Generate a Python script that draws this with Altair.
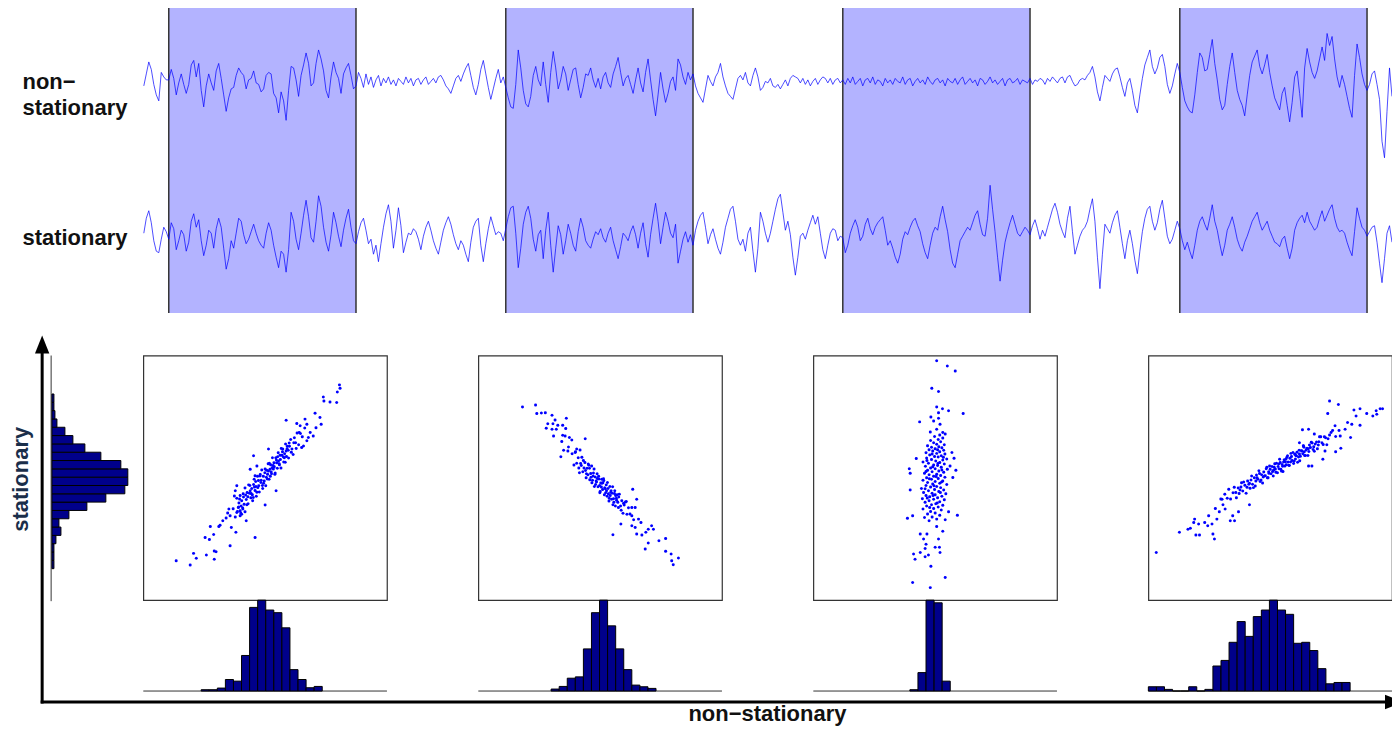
import altair as alt
import pandas as pd

# ---------------- data ----------------
# time series, one sample every 2.5 px, t = 0..500
stationary = [
    0.2, 1.2, 1.7, 0.9, -0.3, -1.0, -1.1, -0.2, 0.6, 0.3,
    -0.2, 0.9, 0.5, -0.9, -0.3, 0.4, 0.1, -1.0, -0.4, 1.0,
    1.5, 0.6, 1.1, -0.3, -1.3, -0.6, 0.4, 0.2, -0.8, 0.5,
    1.2, 0.6, -0.8, -2.2, -1.5, -0.3, -0.8, 0.2, 1.2, 1.0,
    0.1, -0.5, -0.2, 0.3, 0.8, 0.2, -0.3, -0.6, -0.8, 0.2,
    0.9, 0.4, -0.6, -1.4, -2.1, -1.0, -1.2, -2.4, -0.9, 1.6,
    1.0, -0.2, -0.9, 0.2, 1.4, 2.4, 1.3, -0.1, -0.4, 1.0,
    2.7, 2.0, 0.6, -0.4, -1.0, 0.1, 1.6, 0.9, 0.0, -0.7,
    0.4, 1.2, 1.8, 0.6, -0.3, -0.5, 0.3, 0.9, 1.2, 0.4,
    -0.5, -0.2, -1.2, -0.6, -1.7, -0.5, 0.6, 1.5, 2.1, 1.0,
    -0.8, 0.4, 1.9, 0.7, -1.1, -0.4, 0.2, 0.1, 0.5, 0.3,
    -0.2, -0.9, 0.0, 0.6, 1.0, 0.4, -0.3, -0.8, -1.2, -0.4,
    0.4, 0.9, 1.3, 0.8, 0.1, -0.5, -0.9, -0.3, -0.6, -1.2,
    -1.7, -0.4, 0.6, 1.0, 1.2, -0.6, -1.7, -0.5, 0.5, 1.3,
    0.7, 0.1, 0.3, 0.2, -0.3, 0.5, 1.3, 1.9, 2.0, 0.2,
    -2.1, -0.8, 0.8, 1.6, 2.0, 1.2, -0.2, -1.0, 0.1, 0.4,
    -1.5, 0.4, 1.6, -0.6, -2.4, -0.8, 0.7, 0.1, -1.2, -0.3,
    0.8, 0.2, -0.6, -1.0, 0.3, 1.2, 0.6, -0.3, -0.6, -0.8,
    -0.2, 0.3, 0.1, 0.5, -0.1, -0.4, 0.2, 0.6, -0.3, -0.9,
    -1.5, -0.7, 0.2, 0.0, -0.3, 0.3, 0.7, 0.1, -0.8, 0.2,
    0.9, -0.5, -1.4, 0.1, 1.2, 2.2, 1.0, -0.5, 0.6, 1.6,
    1.0, 0.2, -0.1, 0.8, -1.8, -1.0, -0.2, 0.3, -0.4, 0.1,
    -0.6, 0.4, 1.0, 1.4, 1.6, 0.6, -0.5, 0.1, 0.5, -0.2,
    -0.8, -1.2, -0.4, 0.6, 1.2, 1.8, 2.0, 1.0, -0.2, -0.6,
    -0.2, -1.0, 0.2, 0.6, -1.0, -2.4, -0.8, 1.6, 1.0, 0.2,
    -0.4, 0.2, 1.0, 1.8, 2.5, 2.8, 1.6, 0.4, 1.0, 0.1,
    -1.4, -2.6, -1.4, 0.0, 0.2, -0.2, 0.4, 0.9, 1.4, 0.8,
    1.3, 0.2, -0.9, -1.5, -0.6, 0.2, 0.5, 0.4, -0.3, 0.0,
    -0.1, -1.1, -0.6, 0.2, 0.7, 1.1, 0.6, -0.3, 0.0, 0.8,
    1.2, 0.5, 0.1, 0.6, 0.9, 1.1, 1.3, 0.4, -0.6, -0.3,
    -0.8, -1.4, -1.8, -1.2, -0.2, 0.3, 0.1, 0.6, 1.0, 1.2,
    0.7, 0.3, -0.5, -1.1, -1.5, -0.6, 0.2, 0.6, 0.4, 1.3,
    2.0, 1.1, 0.3, -0.9, -1.8, -2.1, -1.2, -0.3, 0.0, 0.3,
    0.6, 0.4, 0.9, 1.4, 1.7, 0.8, 0.1, 0.0, 1.2, 3.4,
    1.8, 0.3, -1.4, -3.0, -1.6, -0.4, 0.3, 0.9, 1.4, 0.8,
    0.2, 0.0, 0.3, 0.6, 0.4, 0.1, 0.7, 1.1, 0.5, -0.2,
    0.4, 0.0, 0.6, 1.2, 1.8, 2.2, 1.6, 0.8, 0.3, -0.1,
    1.2, 2.0, 0.3, -1.2, -0.6, 0.0, 0.4, 0.6, 1.0, 1.8,
    2.5, 1.0, -1.4, -3.5, -1.2, 0.8, 0.5, 0.2, 0.9, 1.4,
    1.7, 0.6, -0.5, -1.5, -0.3, 0.4, -0.5, -1.6, -2.5, -1.0,
    0.3, 1.2, 1.8, 2.0, 1.0, 0.4, 0.9, 1.8, 2.4, 1.2,
    0.0, -0.5, -0.2, 0.4, 1.0, 0.5, -0.3, -0.9, -0.4, -1.0,
    -1.5, -0.6, 0.4, 1.0, 1.3, 0.8, 0.4, 1.2, 2.1, 1.0,
    0.4, -0.5, -1.3, -0.6, 0.4, 0.8, 1.3, 0.6, -0.2, -0.7,
    -1.0, -0.4, 0.0, 0.5, 1.0, 1.3, 1.6, 0.9, 0.4, 0.7,
    1.0, 0.4, 0.0, -0.4, -0.5, -0.7, -0.2, 0.0, -0.8, -1.5,
    -0.8, 0.4, 0.9, 1.2, 1.4, 0.9, 1.6, 1.0, 0.7, 0.4,
    0.6, 1.2, 1.7, 1.0, 1.4, 1.8, 2.1, 1.2, 0.6, 0.3,
    0.4, 0.2, -0.4, -0.9, -1.3, 0.3, 1.9, 1.2, 0.6, 0.4,
    0.0, 0.3, 0.6, 0.7, -0.4, -1.8, -3.1, -1.5, 0.2, 0.7,
    -0.4,
]

non_stationary = [
    -0.3, 0.5, 1.3, 0.8, -0.2, -0.9, -1.3, 0.6, 0.3, 0.1,
    0.1, 0.8, 0.2, -0.9, -0.1, 0.5, -0.2, -0.8, -0.2, 1.1,
    1.4, 0.3, 1.2, -0.6, -1.7, -0.3, 0.5, -0.1, -0.6, 0.7,
    1.2, 0.2, -0.9, -2.0, -1.1, -0.5, -0.4, 0.4, 0.9, 0.6,
    0.4, -0.5, 0.1, 0.2, 0.7, -0.1, -0.2, -0.7, -0.5, 0.4,
    0.6, 0.5, -0.8, -1.1, -2.1, -0.7, -1.3, -2.6, -0.6, 1.0,
    0.9, 0.1, -1.0, 0.4, 1.1, 1.9, 1.2, -0.3, -0.1, 1.2,
    2.1, 1.5, 0.7, -0.6, -1.1, 0.3, 1.3, 0.6, 0.2, -0.8,
    0.5, 0.9, 1.2, 0.4, -0.5, -0.3, 0.6, 0.2, -0.4, 0.5,
    -0.2, 0.3, -0.4, 0.1, 0.4, -0.3, 0.2, -0.1, 0.3, -0.2,
    0.1, -0.3, 0.2, 0.0, -0.2, 0.3, -0.1, 0.2, -0.3, 0.1,
    0.2, -0.2, 0.1, 0.3, -0.2, 0.0, 0.2, -0.1, 0.3, 0.4,
    0.1, -0.3, -0.5, -0.8, -0.3, 0.2, 0.4, 0.0, 0.5, 0.9,
    1.2, 0.4, -0.4, -0.9, -0.2, 0.8, 1.4, 0.5, -0.4, -1.2,
    -0.5, 0.2, 0.8, -0.1, 0.3, -0.4, -1.1, -1.7, -1.8, -0.2,
    2.1, 0.9, -0.6, -1.5, -1.7, -1.0, 0.4, 1.0, 0.1, -0.3,
    1.3, -0.2, -1.4, 0.6, 2.0, 0.9, -0.5, 0.1, 1.0, 0.5,
    -0.6, 0.1, 0.8, 0.9, -0.2, -1.1, -0.4, 0.5, 0.4, 0.9,
    0.1, -0.4, 0.2, -0.5, 0.3, 0.6, -0.1, -0.4, 0.5, 1.0,
    1.6, 0.6, -0.3, 0.2, 0.4, -0.2, -0.8, 0.1, 0.9, -0.1,
    -0.7, 0.6, 1.5, 0.1, -1.2, -2.3, -0.9, 0.6, -0.5, -1.4,
    -0.8, 0.0, 0.3, -0.6, 1.5, 1.1, 0.3, -0.2, 0.6, 0.1,
    0.5, -0.3, -0.8, -1.1, -1.4, -0.5, 0.4, 0.0, -0.3, 0.3,
    0.6, 1.2, 0.3, -0.3, -0.8, -1.0, -1.2, -0.5, 0.2, 0.4,
    0.1, 0.6, -0.1, -0.3, 0.4, 0.9, 0.3, -0.6, -0.4, 0.0,
    -0.1, 0.2, -0.3, -0.4, -0.2, -0.5, -0.2, 0.1, -0.3, 0.2,
    0.4, 0.3, 0.2, -0.1, 0.2, -0.2, 0.1, -0.3, 0.0, 0.2,
    -0.2, 0.1, 0.3, 0.2, -0.1, 0.2, -0.2, 0.1, 0.2, -0.1,
    0.1, -0.2, 0.2, -0.1, 0.3, -0.2, 0.0, 0.2, -0.3, 0.1,
    0.2, -0.1, 0.3, -0.2, 0.1, 0.0, -0.3, 0.2, -0.1, 0.1,
    -0.2, 0.2, 0.0, -0.1, 0.3, -0.2, 0.1, 0.2, -0.3, 0.0,
    0.2, -0.1, 0.1, -0.2, 0.3, 0.0, -0.2, 0.1, 0.2, -0.1,
    0.1, -0.3, 0.2, 0.0, -0.1, 0.2, -0.2, 0.1, 0.3, -0.2,
    0.0, 0.2, -0.1, 0.1, -0.3, 0.2, 0.1, -0.2, 0.0, 0.3,
    -0.1, 0.1, -0.2, 0.0, 0.2, -0.3, 0.1, 0.2, -0.1, 0.0,
    0.2, -0.2, 0.1, 0.0, -0.1, 0.2, -0.2, 0.1, 0.0, 0.2,
    0.1, -0.2, 0.2, 0.0, 0.3, 0.1, -0.1, 0.2, 0.3, -0.1,
    0.3, 0.4, 0.0, -0.3, -0.2, 0.1, 0.2, 0.1, 0.4, 0.6,
    1.0, 0.3, -0.7, -1.3, -0.4, 0.4, 0.2, 0.0, 0.5, 0.8,
    0.9, 0.3, -0.4, -1.0, -0.1, 0.2, -0.6, -1.6, -2.1, -0.9,
    0.2, 1.1, 1.6, 2.1, 1.0, 0.5, 0.9, 1.6, 1.8, 1.0,
    -0.2, -0.8, -0.3, 0.5, 1.2, 0.6, -0.4, -1.3, -1.7, -2.0,
    -2.1, -0.9, 0.6, 1.9, 1.6, 0.7, 0.8, 1.8, 2.8, 1.2,
    0.1, -1.2, -1.9, -1.6, -0.2, 1.0, 1.9, 0.6, -0.6, -1.2,
    -1.6, -2.3, -0.9, 0.4, 1.3, 1.7, 2.1, 1.0, 0.5, 1.1,
    1.8, 0.6, -0.3, -1.1, -1.5, -1.9, -0.8, -0.4, -1.6, -2.7,
    -1.4, 0.3, 0.7, -0.8, -2.4, 0.9, 2.2, 1.3, 0.6, 0.2,
    0.7, 1.5, 2.3, 1.4, 3.2, 2.4, 3.0, 1.5, 0.3, -0.4,
    0.4, -0.2, -1.0, -1.8, -2.4, 0.4, 2.5, 1.6, 0.5, -0.2,
    -0.6, -0.2, 0.5, 0.7, -0.2, -1.2, -4.0, -5.1, -2.0, 0.9,
    -1.0,
]

window_starts = [10, 145, 280, 415]
window_length = 75

# scatter panels: (non-stationary, stationary) pairs inside each window
scatter_1 = [
    (-2.92, -2.71), (-2.46, -2.85), (-2.35, -2.47), (-2.26, -2.63), (-1.93, -2.52), (-1.67, -2.66),
    (-1.67, -2.39), (-1.61, -2.42), (-1.15, -2.22), (-1.83, -2.02), (-1.97, -1.95), (-1.69, -1.85),
    (-1.80, -1.59), (-1.52, -1.59), (-1.48, -1.55), (-1.11, -1.62), (-0.96, -1.78), (-0.33, -1.95),
    (-1.39, -1.40), (-1.28, -1.31), (-1.23, -1.15), (-1.19, -1.02), (-1.15, -1.24), (-0.93, -1.13),
    (-0.82, -1.08), (-0.82, -1.24), (-0.87, -0.95), (-0.77, -1.19), (-0.62, -1.40), (-0.73, -1.02),
    (-0.66, -1.11), (0.69, 1.88), (1.04, 1.78), (1.15, 1.70), (1.31, 1.92), (1.37, 1.75), (1.48, 1.48),
    (1.42, 1.32), (1.64, 2.11), (1.80, 1.97), (1.84, 1.75), (1.67, 1.64), (1.58, 1.37), (1.91, 2.64),
    (1.93, 2.51), (2.13, 2.48), (2.35, 2.46), (2.37, 2.81), (2.44, 3.04), (2.46, 2.93), (1.37, 1.21),
    (1.26, 1.04), (1.20, 0.99), (0.11, 0.94), (-0.38, 0.72), (0.36, -0.42), (0.00, -0.89), (-0.49, 0.28),
    (-0.27, 0.39), (-0.93, -0.26), (-0.98, -0.42), (-1.01, -0.59), (-0.33, 0.07),
    (-1.05, -1.01), (-0.98, -1.28), (-0.93, -0.67), (-0.88, -0.97), (-0.84, -0.69), (-0.80, -1.15),
    (-0.77, -0.75), (-0.72, -0.52), (-0.69, -0.86), (-0.66, -0.33), (-0.62, -0.71), (-0.59, -0.48),
    (-0.56, -0.85), (-0.52, -0.50), (-0.50, -0.25), (-0.47, -0.65), (-0.44, -0.35), (-0.41, -0.75),
    (-0.38, -0.22), (-0.36, -0.05), (-0.33, -0.41), (-0.30, -0.28), (-0.27, -0.47), (-0.25, 0.05),
    (-0.22, -0.09), (-0.19, -0.46), (-0.17, 0.06), (-0.14, -0.15), (-0.11, 0.26), (-0.09, -0.25),
    (-0.06, 0.05), (-0.03, -0.10), (0.00, 0.29), (0.02, -0.26), (0.05, 0.25), (0.08, 0.12),
    (0.10, 0.46), (0.13, -0.05), (0.16, 0.28), (0.18, 0.43), (0.21, 0.13), (0.24, 0.66),
    (0.27, 0.29), (0.29, 0.49), (0.32, 0.12), (0.35, 0.66), (0.38, 0.49), (0.40, 0.31),
    (0.43, 0.82), (0.46, 0.46), (0.49, 0.74), (0.52, 0.32), (0.55, 0.74), (0.58, 0.94),
    (0.61, 0.52), (0.64, 0.79), (0.67, 1.11), (0.70, 0.70), (0.73, 1.03), (0.77, 0.65),
    (0.80, 1.03), (0.84, 1.25), (0.88, 0.94), (0.92, 0.76), (0.96, 1.31), (1.00, 1.15),
    (1.05, 1.47), (1.10, 1.08), (1.16, 1.45), (1.22, 1.34), (1.30, 1.63),
    (-0.91, -1.10), (-0.82, -0.58), (-0.74, -0.98), (-0.64, -0.56), (-0.54, -0.23), (-0.46, -0.51),
    (-0.39, -0.64), (-0.31, -0.12), (-0.24, -0.32), (-0.16, 0.11), (-0.08, -0.35), (-0.01, 0.17),
    (0.07, -0.04), (0.14, 0.48), (0.20, 0.19), (0.26, 0.40), (0.33, 0.16), (0.41, 0.69),
    (0.47, 0.43), (0.53, 0.96), (0.60, 0.68), (0.66, 0.51), (0.72, 0.95), (0.79, 1.14),
    (0.86, 0.84), (0.94, 1.15), (1.02, 0.96), (1.12, 1.48),
    (-0.86, -0.82), (-0.79, -0.92), (-0.71, -0.63), (-0.60, -0.88), (-0.57, -0.62), (-0.49, -0.42),
    (-0.42, -0.55), (-0.35, -0.30), (-0.29, -0.60), (-0.21, -0.26), (-0.13, -0.08), (-0.05, -0.18),
    (0.04, 0.02), (0.11, 0.22), (0.17, 0.05), (0.23, 0.33), (0.30, 0.36), (0.37, 0.58),
    (0.44, 0.55), (0.50, 0.60), (0.57, 0.85), (0.63, 0.66), (0.69, 0.88), (0.76, 0.90),
]

scatter_2 = [
    (-2.55, 2.32), (-2.12, 2.38), (-2.08, 2.10), (-1.93, 2.12), (-1.80, 2.13), (-1.58, 2.05),
    (-1.48, 1.89), (-1.11, 1.95), (-1.72, 1.77), (-1.55, 1.77), (-1.39, 1.72), (-1.23, 1.72),
    (-1.77, 1.62), (-1.58, 1.59), (-1.44, 1.59), (-1.13, 1.61), (-1.53, 1.37), (-1.23, 1.39),
    (-1.15, 1.37), (-1.01, 1.32), (-0.93, 1.24), (-1.26, 1.19), (-1.04, 1.01), (-0.49, 1.28),
    (-1.29, 0.69), (-1.20, 0.90), (-1.06, 0.88), (-0.77, 0.94), (-0.66, 0.91), (-0.82, 0.83),
    (0.42, -1.86), (1.48, -2.33), (1.58, -2.13), (1.93, -2.06), (2.15, -1.98), (2.15, -2.40),
    (2.33, -2.49), (2.35, -2.71), (2.40, -2.84), (2.57, -2.62), (1.20, -1.84), (1.37, -1.87),
    (1.50, -1.78), (1.69, -1.57), (1.75, -1.68), (1.58, -1.68), (1.15, -1.62), (1.04, -1.57),
    (1.34, -1.46), (1.26, -1.35), (0.68, -1.51), (1.04, -1.24), (1.07, -0.37), (1.20, -0.70),
    (1.15, -0.97),
    (-0.92, 0.79), (-0.86, 0.42), (-0.81, 0.85), (-0.77, 0.48), (-0.72, 0.66), (-0.68, 0.17),
    (-0.64, 0.47), (-0.60, 0.67), (-0.57, 0.20), (-0.53, 0.32), (-0.50, 0.50), (-0.46, 0.00),
    (-0.43, 0.31), (-0.40, 0.10), (-0.37, 0.41), (-0.34, -0.06), (-0.31, 0.14), (-0.28, 0.39),
    (-0.25, -0.08), (-0.22, 0.16), (-0.19, -0.28), (-0.16, 0.03), (-0.13, -0.10), (-0.10, 0.13),
    (-0.07, -0.29), (-0.04, -0.04), (-0.01, -0.49), (0.02, -0.17), (0.05, -0.05), (0.08, -0.38),
    (0.11, -0.03), (0.14, -0.55), (0.17, -0.36), (0.20, -0.23), (0.23, -0.60), (0.26, -0.35),
    (0.29, -0.76), (0.32, -0.28), (0.35, -0.47), (0.38, -0.70), (0.41, -0.29), (0.44, -0.68),
    (0.47, -0.51), (0.50, -0.92), (0.53, -0.67), (0.56, -0.55), (0.60, -0.97), (0.63, -0.54),
    (0.67, -0.92), (0.71, -0.75), (0.75, -1.16), (0.79, -0.89), (0.83, -0.79), (0.88, -1.19),
    (0.93, -0.98), (0.98, -1.18), (1.04, -0.97), (1.10, -1.37),
    (-0.70, 0.32), (-0.55, 0.57), (-0.45, 0.13), (-0.35, 0.31), (-0.27, -0.16), (-0.20, 0.29),
    (-0.12, -0.14), (-0.05, 0.05), (0.00, -0.45), (0.06, -0.18), (0.12, -0.09), (0.18, -0.49),
    (0.24, -0.15), (0.30, -0.67), (0.36, -0.42), (0.42, -0.88), (0.48, -0.42), (0.54, -0.73),
    (0.61, -0.63), (0.69, -1.06), (0.77, -0.83), (0.86, -0.77),
    (-0.62, 0.40), (-0.48, 0.24), (-0.39, 0.45), (-0.30, 0.02), (-0.23, 0.06), (-0.15, -0.22),
    (-0.09, -0.02), (-0.02, -0.25), (0.04, -0.30), (0.09, -0.16), (0.15, -0.32), (0.21, -0.42),
    (0.27, -0.52), (0.33, -0.58), (0.39, -0.50), (0.45, -0.80), (0.51, -0.58), (0.58, -0.80),
]

scatter_3 = [
    (0.05, 3.83), (0.40, 3.66), (0.66, 3.49), (-0.11, 2.93), (0.11, 2.82), (0.05, 2.32),
    (0.24, 2.26), (0.44, 2.19), (0.92, 2.10), (-0.14, 1.99), (0.11, 2.13), (-0.05, 1.86),
    (0.11, 1.95), (-0.51, 1.83), (0.16, 1.75), (-0.16, 1.50), (0.05, 1.59), (0.25, 1.48),
    (0.33, 1.43), (-0.74, -3.42), (-0.16, -3.59), (0.33, -3.26), (-0.14, -2.89), (-0.71, -2.49),
    (-0.66, -2.66), (-0.49, -2.44), (-0.33, -2.58), (-0.22, -2.52), (0.16, -2.44), (0.00, -2.27),
    (0.14, -2.27), (-0.33, -2.31), (-0.30, -2.17), (-0.38, -2.00), (-0.49, -1.84), (-0.27, -1.84),
    (0.11, -2.00), (0.25, -1.75), (-0.91, -1.32), (-0.74, -1.24), (0.73, -1.22), (0.44, -1.11),
    (0.05, -1.59), (0.33, -1.37), (-0.85, 0.30), (-0.82, 0.15), (-0.82, -0.40), (-0.62, 0.63),
    (0.68, 0.25), (0.58, 0.01), (0.55, 0.83), (0.62, 0.64), (0.49, 0.39),
    (-0.20, -1.40), (0.05, -1.35), (-0.35, -1.30), (-0.10, -1.28), (0.15, -1.22), (-0.25, -1.18),
    (0.00, -1.15), (-0.15, -1.10), (0.20, -1.05), (-0.40, -1.02), (-0.05, -1.00), (0.10, -0.95),
    (-0.28, -0.92), (0.25, -0.90), (-0.12, -0.88), (0.02, -0.85), (-0.33, -0.80), (0.15, -0.78),
    (-0.20, -0.75), (0.30, -0.72), (-0.05, -0.70), (-0.42, -0.68), (0.08, -0.65), (-0.18, -0.62),
    (0.22, -0.60), (-0.30, -0.58), (0.00, -0.55), (0.35, -0.52), (-0.10, -0.50), (-0.38, -0.48),
    (0.12, -0.45), (-0.22, -0.42), (0.28, -0.40), (-0.02, -0.38), (-0.45, -0.35), (0.18, -0.32),
    (-0.15, -0.30), (0.05, -0.28), (-0.30, -0.25), (0.38, -0.22), (-0.08, -0.20), (0.15, -0.18),
    (-0.25, -0.15), (0.00, -0.12), (0.25, -0.10), (-0.40, -0.08), (-0.12, -0.05), (0.10, -0.02),
    (-0.28, 0.00), (0.32, 0.02), (-0.05, 0.05), (0.18, 0.08), (-0.20, 0.10), (0.05, 0.12),
    (-0.35, 0.15), (0.28, 0.18), (-0.10, 0.20), (0.12, 0.22), (-0.25, 0.25), (0.40, 0.28),
    (0.00, 0.30), (-0.15, 0.32), (0.20, 0.35), (-0.32, 0.38), (0.08, 0.40), (-0.05, 0.42),
    (0.30, 0.45), (-0.22, 0.48), (0.15, 0.50), (-0.40, 0.52), (0.02, 0.55), (0.25, 0.58),
    (-0.12, 0.60), (0.38, 0.62), (-0.28, 0.65), (0.10, 0.68), (-0.02, 0.70), (0.20, 0.72),
    (-0.18, 0.75), (0.32, 0.78), (0.05, 0.80), (-0.30, 0.82), (0.15, 0.85), (-0.08, 0.88),
    (0.28, 0.90), (-0.20, 0.92), (0.00, 0.95), (0.22, 0.98), (-0.12, 1.00), (0.12, 1.02),
    (-0.25, 1.05), (0.30, 1.08), (0.05, 1.10), (-0.05, 1.15), (0.18, 1.18), (-0.15, 1.22),
    (0.10, 1.25), (0.25, 1.30), (-0.02, 1.35), (0.15, 1.40),
    (-0.18, -0.97), (0.07, -0.82), (-0.26, -0.66), (-0.07, -0.58), (0.17, -0.48), (-0.33, -0.36),
    (-0.04, -0.26), (0.21, -0.14), (-0.19, -0.03), (0.03, 0.04), (-0.30, 0.21), (0.22, 0.26),
    (-0.08, 0.36), (0.09, 0.47), (-0.27, 0.57), (0.27, 0.67), (-0.10, 0.78), (0.08, 0.92),
]

scatter_4 = [
    (-3.74, -2.44), (-2.98, -1.78), (-2.70, -1.68), (-2.62, -1.65), (-2.48, -1.35), (-2.44, -1.87),
    (-2.32, -1.87), (-2.51, -1.46), (-2.35, -1.51), (-2.15, -1.46), (-2.02, -1.24), (-2.05, -1.57),
    (-1.88, -1.84), (-1.83, -2.00), (-1.91, -1.51), (-1.75, -1.35), (-1.80, -1.00), (-1.58, -0.70),
    (-1.67, -1.11), (-1.48, -1.02), (-1.31, -1.40), (-1.17, -1.40), (-1.04, -1.11), (-1.23, -1.24),
    (-1.13, -0.48), (-0.68, -0.88), (1.95, 2.51), (2.24, 2.40), (1.89, 2.10), (2.75, 2.22),
    (2.95, 2.26), (2.82, 2.02), (3.17, 2.10), (3.37, 2.02), (3.50, 2.08), (3.61, 2.26),
    (3.69, 2.26), (3.48, 2.19), (2.68, 1.75), (2.54, 1.81), (2.95, 1.72), (2.13, 1.70),
    (2.46, 1.59), (2.30, 1.37), (2.64, 1.32), (2.32, 0.97), (2.15, 0.85), (1.73, 0.61),
    (1.80, 0.88), (1.26, 0.39), (1.37, 0.39), (1.06, 1.57), (1.26, 1.59), (1.45, 1.43),
    (0.96, 1.15), (1.09, 1.04),
    (-1.62, -0.69), (-1.55, -0.88), (-1.49, -0.54), (-1.41, -0.67), (-1.36, -0.37), (-1.30, -0.69),
    (-1.22, -0.49), (-1.18, -0.31), (-1.11, -0.65), (-1.05, -0.33), (-0.99, -0.40), (-0.94, -0.16),
    (-0.90, -0.43), (-0.83, -0.24), (-0.79, -0.50), (-0.74, -0.10), (-0.70, -0.21), (-0.66, -0.34),
    (-0.61, 0.06), (-0.58, -0.21), (-0.52, 0.00), (-0.49, -0.27), (-0.45, 0.09), (-0.40, -0.05),
    (-0.37, 0.23), (-0.33, -0.12), (-0.28, 0.10), (-0.25, -0.17), (-0.21, 0.19), (-0.16, 0.07),
    (-0.13, 0.30), (-0.09, 0.00), (-0.05, 0.20), (-0.02, 0.39), (0.03, 0.13), (0.06, 0.37),
    (0.10, 0.06), (0.13, 0.35), (0.17, 0.29), (0.21, 0.48), (0.24, 0.17), (0.28, 0.45),
    (0.31, 0.61), (0.35, 0.28), (0.39, 0.44), (0.42, 0.21), (0.46, 0.59), (0.50, 0.53),
    (0.53, 0.43), (0.57, 0.72), (0.61, 0.41), (0.65, 0.64), (0.68, 0.80), (0.72, 0.57),
    (0.77, 0.47), (0.81, 0.77), (0.86, 0.72), (0.90, 0.51), (0.95, 0.90), (0.99, 0.71),
    (1.04, 0.88), (1.09, 1.05), (1.13, 0.73), (1.18, 0.91), (1.24, 0.73), (1.29, 1.07),
    (1.35, 1.16), (1.41, 0.93), (1.48, 1.11), (1.55, 0.95), (1.62, 1.34), (1.70, 1.15),
    (1.78, 1.34), (1.86, 1.08), (1.95, 1.40), (2.05, 1.55), (2.15, 1.35), (2.26, 1.55),
    (-1.02, -0.51), (-0.87, -0.14), (-0.76, -0.31), (-0.63, -0.07), (-0.55, -0.32), (-0.43, 0.00),
    (-0.35, 0.14), (-0.30, -0.07), (-0.19, 0.06), (-0.11, 0.35), (-0.07, 0.00), (0.00, 0.28),
    (0.08, 0.21), (0.15, 0.46), (0.19, 0.18), (0.26, 0.37), (0.33, 0.50), (0.37, 0.22),
    (0.44, 0.52), (0.48, 0.39), (0.55, 0.67), (0.59, 0.52), (0.63, 0.40), (0.70, 0.70),
    (0.75, 0.83), (0.79, 0.55), (0.84, 0.73), (0.88, 0.84), (0.93, 0.68), (0.97, 0.56),
    (1.02, 0.89), (1.07, 0.79), (1.11, 1.00), (1.16, 0.73), (1.21, 0.97), (1.27, 0.86),
    (1.32, 0.99), (1.38, 1.14), (1.45, 0.87), (1.52, 1.17), (1.58, 1.07), (1.66, 1.34),
    (1.74, 1.09), (1.82, 1.31), (1.90, 1.28), (2.00, 1.48),
    (-0.96, -0.30), (-0.68, -0.18), (-0.47, -0.10), (-0.23, 0.03), (-0.04, 0.15), (0.11, 0.25),
    (0.29, 0.30), (0.41, 0.38), (0.52, 0.62), (0.67, 0.52), (0.83, 0.62), (0.96, 0.78),
    (1.12, 0.85), (1.25, 0.95), (1.43, 1.02), (1.60, 1.18),
]
scatter_panels = [scatter_1, scatter_2, scatter_3, scatter_4]

# histograms of the non-stationary values under each panel (relative counts)
hist_bin_width = 0.265
hist_starts = [-2.10, -1.61, -0.83, -4.00]
hist_counts = [
    [4, 4, 9, 35, 30, 108, 254, 276, 246, 238, 192, 65, 35, 10, 14],
    [6, 14, 39, 43, 128, 238, 276, 198, 128, 65, 18, 13, 8],
    [4, 56, 276, 268, 30],
    [13, 13, 5, 0, 0, 13, 0, 5, 76, 93, 148, 211, 166, 226, 246, 276, 246, 233, 145,
     148, 123, 68, 22, 26, 26],
]

# histogram of the stationary values (left), bins from low to high
left_hist_start = -2.97
left_hist_bin_width = 0.272
left_hist_counts = [2, 2, 2, 4, 9, 7, 17, 35, 54, 73, 76, 76, 69, 49, 33, 21, 13, 5, 3, 2, 2]

series_labels = ["non−", "stationary", "stationary"]
axis_titles = ["stationary", "non−stationary"]

# ---------------- styling / layout ----------------
FONT = "Liberation Sans"
BLUE = "#0000ff"
SHADE = "#b3b3ff"
NAVY = "#00008b"
EDGE = "#333333"

TOP_W, TOP_H = 1250, 307
LAB_W = 133.5          # label column of the top row
LEFT_W = 42            # left column of the bottom grid
PAN_W, PAN_H = 244, 245
HIST_H = 91
COL_GAP = 91.5
dummy = pd.DataFrame({"k": [0]})

# ---------------- top: the two series ----------------
n = len(stationary)
ts = pd.DataFrame({"t": list(range(n)), "stationary": stationary,
                   "non_stationary": non_stationary[:n]})
ends = [s + window_length for s in window_starts]
win = pd.DataFrame({"start": window_starts, "end": ends})
edges = pd.DataFrame({"edge": window_starts + ends})
tscale = alt.Scale(domain=[0, n - 1], nice=False, zero=False)

shade = alt.Chart(win).mark_rect(color=SHADE).encode(
    x=alt.X("start:Q", scale=tscale, axis=None), x2="end:Q",
    y=alt.value(0), y2=alt.value(TOP_H))
borders = alt.Chart(edges).mark_rule(color=EDGE, strokeWidth=1.5).encode(
    x=alt.X("edge:Q", scale=tscale, axis=None), y=alt.value(0), y2=alt.value(TOP_H))
ns_line = alt.Chart(ts).mark_line(color=BLUE, strokeWidth=0.7).encode(
    x=alt.X("t:Q", scale=tscale, axis=None),
    y=alt.Y("non_stationary:Q", scale=alt.Scale(domain=[-15.47, 5.0], nice=False, zero=False), axis=None))
st_line = alt.Chart(ts).mark_line(color=BLUE, strokeWidth=0.7).encode(
    x=alt.X("t:Q", scale=tscale, axis=None),
    y=alt.Y("stationary:Q", scale=alt.Scale(domain=[-5.13, 15.33], nice=False, zero=False), axis=None))
top = alt.layer(shade, borders, ns_line, st_line).resolve_scale(y="independent").properties(
    width=TOP_W, height=TOP_H)

label_pos = [(12.5, 83), (12.5, 109), (12.5, 239)]
label_layers = []
for txt, (lx, ly) in zip(series_labels, label_pos):
    label_layers.append(
        alt.Chart(pd.DataFrame({"label": [txt]})).mark_text(
            align="left", baseline="alphabetic", font=FONT, fontSize=22, fontWeight="bold",
            color="#111111").encode(text="label:N", x=alt.value(lx), y=alt.value(ly)))
label_panel = alt.layer(*label_layers).properties(width=LAB_W, height=TOP_H)

top_row = alt.hconcat(label_panel, top, spacing=0, bounds="flush")

# ---------------- bottom grid: left column (histogram, arrows, titles) ----------------
lh = pd.DataFrame({
    "lo": [left_hist_start + i * left_hist_bin_width for i in range(len(left_hist_counts))],
    "hi": [left_hist_start + (i + 1) * left_hist_bin_width for i in range(len(left_hist_counts))],
    "count": left_hist_counts, "zero": 0})
yscale_sc = alt.Scale(domain=[-4, 4], nice=False, zero=False)
# count 0 sits on the column's right edge, bars grow to the right
lx_scale = alt.Scale(domain=[-LEFT_W, 0], nice=False, zero=False)
lbars = alt.Chart(lh).mark_rect(fill=NAVY, stroke="black", strokeWidth=1).encode(
    y=alt.Y("lo:Q", scale=yscale_sc, axis=None), y2="hi:Q",
    x=alt.X("zero:Q", scale=lx_scale, axis=None), x2="count:Q")
lbase = alt.Chart(dummy).mark_rule(color=EDGE, strokeWidth=1).encode(
    x=alt.value(LEFT_W - 0.8), y=alt.value(0), y2=alt.value(PAN_H + 1))

AX_X = 32.2     # vertical axis arrow, relative to the left column
AX_Y = 347      # horizontal axis arrow, relative to the scatter row top
arrow_v = alt.Chart(dummy).mark_rule(color="black", strokeWidth=3).encode(
    x=alt.value(AX_X), y=alt.value(-4), y2=alt.value(AX_Y + 1.5))
arrow_h = alt.Chart(dummy).mark_rule(color="black", strokeWidth=3).encode(
    y=alt.value(AX_Y), x=alt.value(AX_X - 1.5), x2=alt.value(1380))
head_up = alt.Chart(dummy).mark_point(shape="M-0.8,1L0,-1L0.8,1Z", size=324, filled=True,
                                      color="black", opacity=1).encode(
    x=alt.value(AX_X), y=alt.value(-11))
head_right = alt.Chart(dummy).mark_point(shape="M-1,-0.8L1,0L-1,0.8Z", size=324, filled=True,
                                         color="black", opacity=1).encode(
    x=alt.value(1386), y=alt.value(AX_Y))
ytitle = alt.Chart(pd.DataFrame({"label": [axis_titles[0]]})).mark_text(
    angle=270, align="center", baseline="middle", font=FONT, fontSize=22, fontWeight="bold",
    color="#1a2e4a").encode(text="label:N", x=alt.value(11), y=alt.value(124))
xtitle = alt.Chart(pd.DataFrame({"label": [axis_titles[1]]})).mark_text(
    align="center", baseline="alphabetic", font=FONT, fontSize=22, fontWeight="bold",
    color="#111111").encode(text="label:N", x=alt.value(758.5), y=alt.value(366))

left_top = alt.layer(lbase, lbars, arrow_v, arrow_h, head_up, head_right, ytitle, xtitle).properties(
    width=LEFT_W, height=PAN_H)
left_bottom = alt.Chart(dummy).mark_rule(opacity=0).encode(
    x=alt.value(10), x2=alt.value(20), y=alt.value(40)).properties(width=LEFT_W, height=HIST_H)

# ---------------- bottom grid: scatter + histogram columns ----------------
scatters, hists = [], []
for pts, hstart, counts in zip(scatter_panels, hist_starts, hist_counts):
    sdf = pd.DataFrame(pts, columns=["x", "y"])
    scat = alt.Chart(sdf).mark_circle(size=9, color=BLUE, opacity=1).encode(
        x=alt.X("x:Q", scale=alt.Scale(domain=[-4, 4], nice=False, zero=False), axis=None),
        y=alt.Y("y:Q", scale=alt.Scale(domain=[-4, 4], nice=False, zero=False), axis=None)
    ).properties(width=PAN_W, height=PAN_H,
                 view=alt.ViewBackground(stroke=EDGE, strokeWidth=1.2))
    hdf = pd.DataFrame({
        "x0": [hstart + i * hist_bin_width for i in range(len(counts))],
        "x1": [hstart + (i + 1) * hist_bin_width for i in range(len(counts))],
        "count": counts, "zero": 0})
    hbars = alt.Chart(hdf).mark_rect(fill=NAVY, stroke="black", strokeWidth=1).encode(
        x=alt.X("x0:Q", scale=alt.Scale(domain=[-4, 4], nice=False, zero=False), axis=None),
        x2="x1:Q",
        y=alt.Y("zero:Q", scale=alt.Scale(domain=[0, max(counts)], nice=False, zero=True), axis=None),
        y2="count:Q")
    hbase = alt.Chart(dummy).mark_rule(color=EDGE, strokeWidth=1).encode(
        y=alt.value(HIST_H), x=alt.value(0), x2=alt.value(PAN_W))
    scatters.append(scat)
    hists.append(alt.layer(hbase, hbars).properties(width=PAN_W, height=HIST_H))

bottom_grid = alt.concat(left_top, *scatters, left_bottom, *hists, columns=5,
                         spacing={"row": 0, "column": COL_GAP}, bounds="flush")

# the page offers 1384 px of width: the arrow head is trimmed at the right edge, as in the original
chart = alt.vconcat(top_row, bottom_grid, spacing=19.5).properties(
    padding={"left": 1.0, "top": -4, "right": -12, "bottom": 0}
).configure_view(stroke="transparent")

chart.save("out.html", embed_options={"renderer": "svg", "actions": False})
